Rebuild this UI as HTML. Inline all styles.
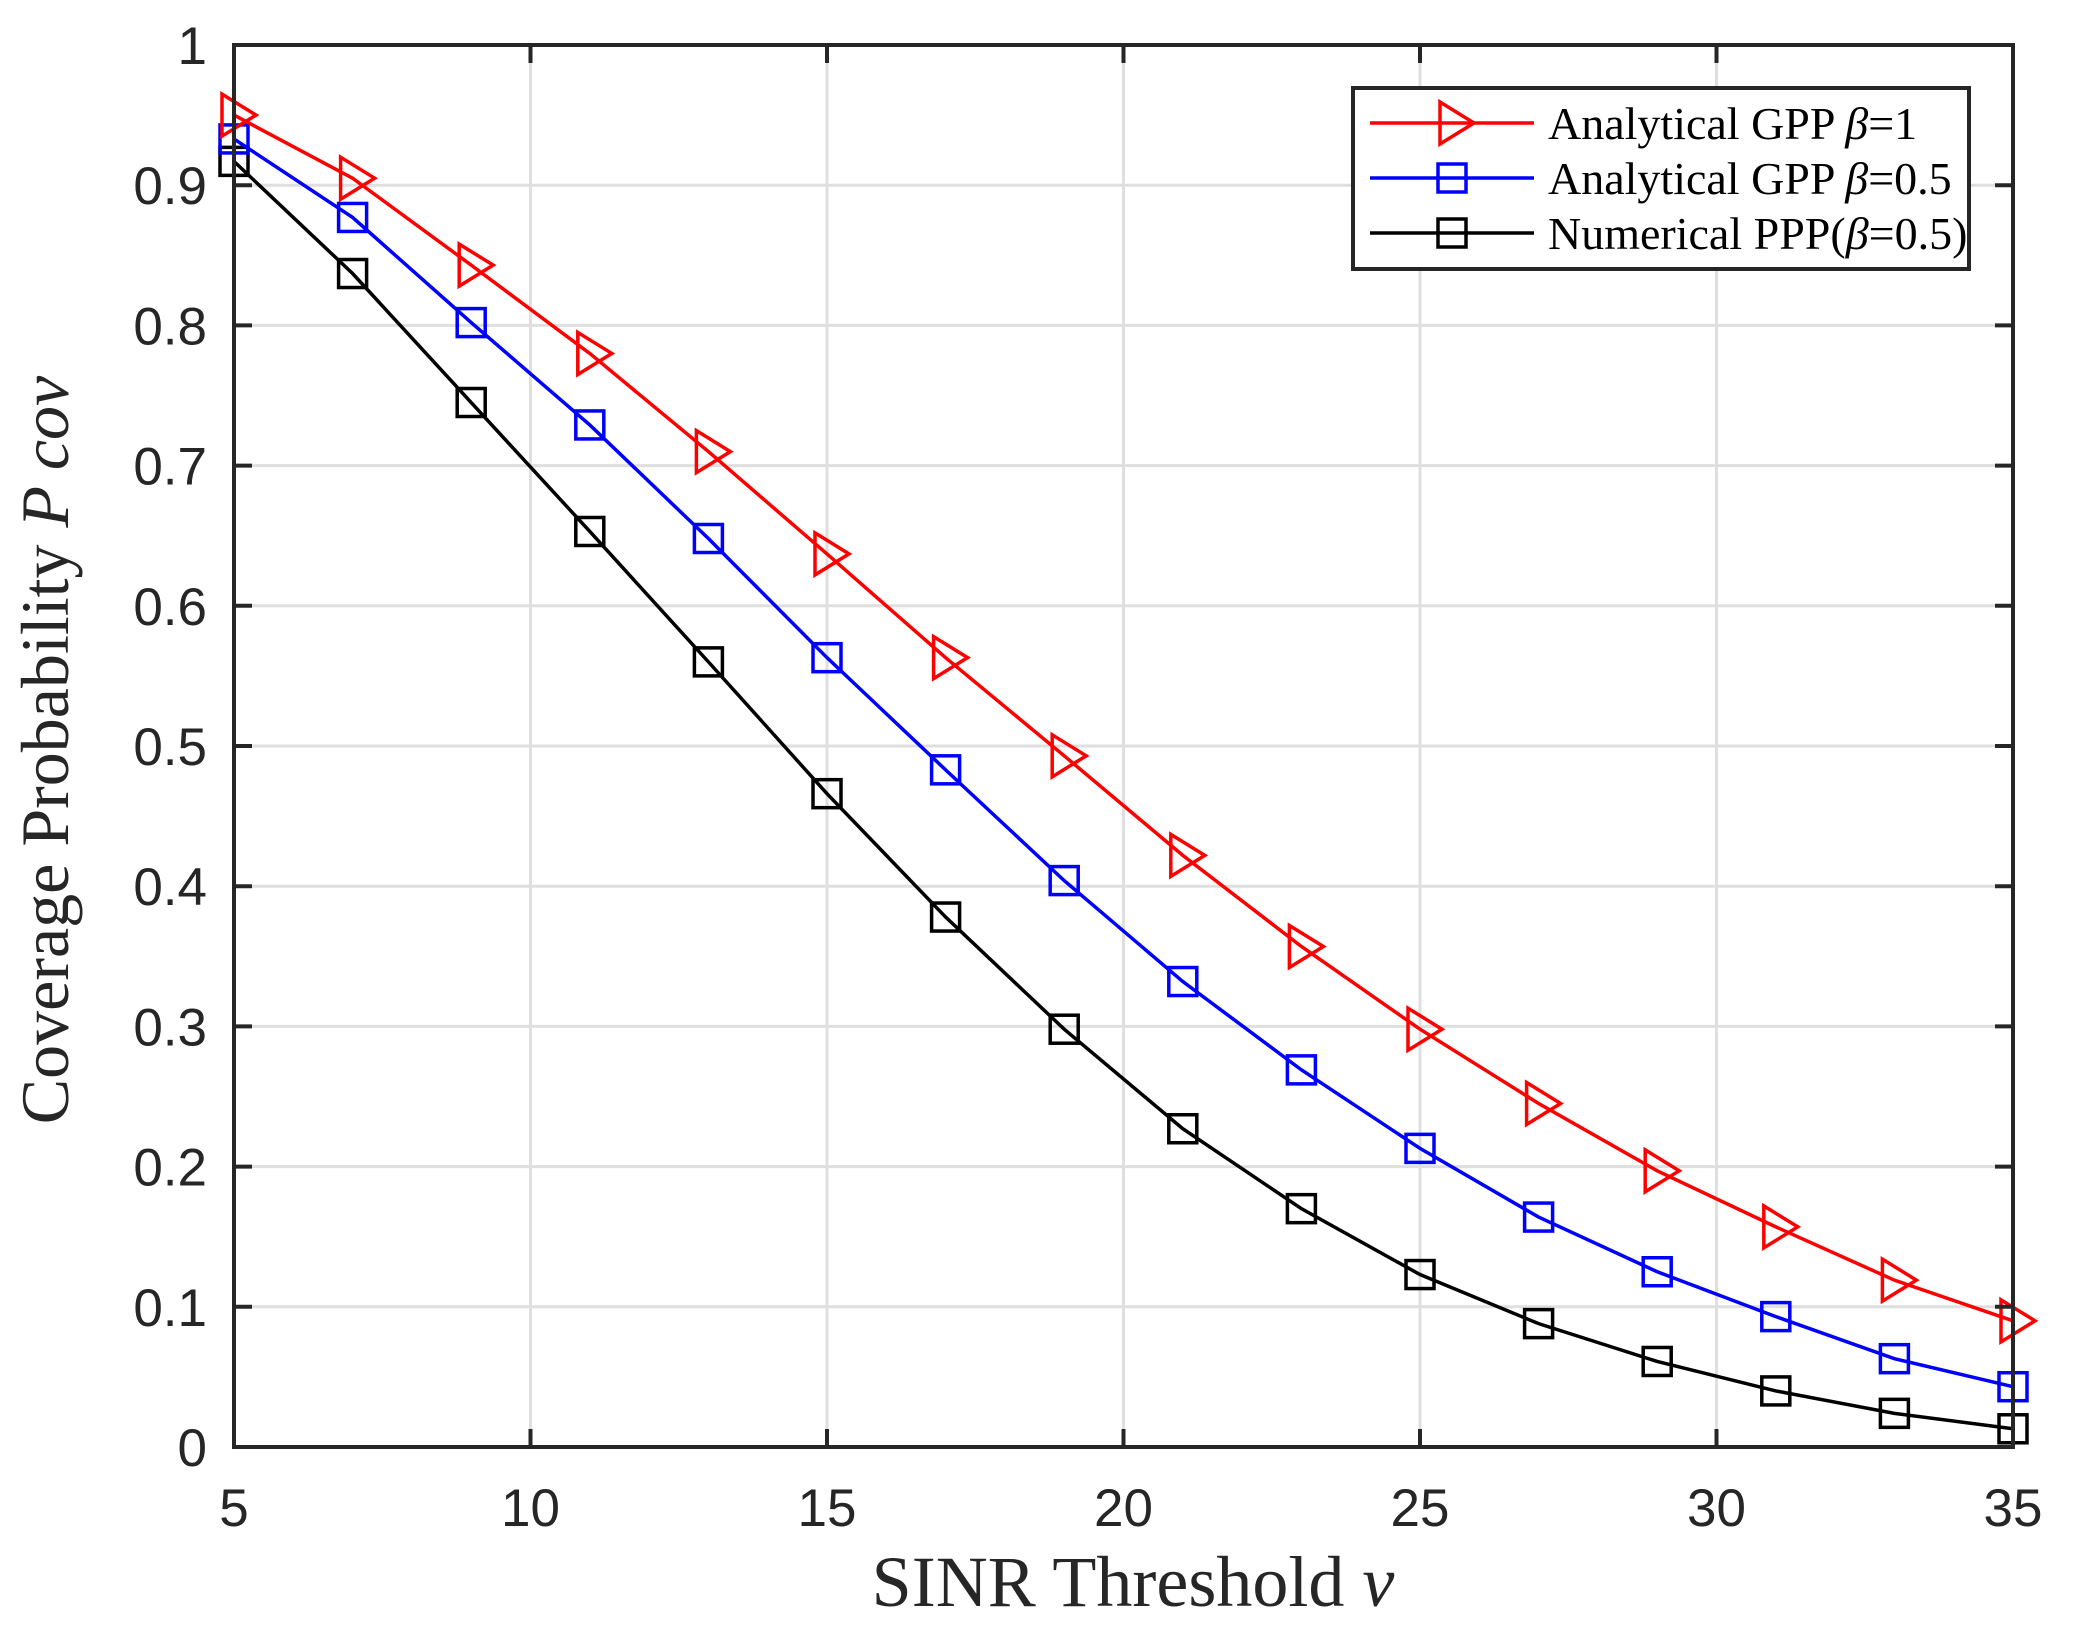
<!DOCTYPE html>
<html><head><meta charset="utf-8"><style>
html,body{margin:0;padding:0;background:#fff;}
svg{display:block;}
.tk{font-family:"Liberation Sans",sans-serif;font-size:53px;fill:#262626;}
.lab{font-family:"Liberation Serif",serif;font-size:68px;fill:#262626;}
.xlab{font-family:"Liberation Serif",serif;font-size:72px;fill:#262626;}
.leg{font-family:"Liberation Serif",serif;font-size:46px;fill:#000;}
</style></head><body>
<svg id="chart" width="2076" height="1640" viewBox="0 0 2076 1640" xmlns="http://www.w3.org/2000/svg">
<rect x="0" y="0" width="2076" height="1640" fill="#fff"/>
<g id="grid"></g>
<g id="series"></g>
<rect x="234" y="45" width="1779" height="1402" fill="none" stroke="#262626" stroke-width="4"/>
<g id="ticks"></g>
<text class="xlab" x="1133" y="1606" text-anchor="middle">SINR Threshold <tspan font-style="italic">ν</tspan></text>
<text class="lab" transform="translate(68,750) rotate(-90)" text-anchor="middle">Coverage Probability <tspan font-style="italic">P cov</tspan></text>
<g>
<rect x="1353" y="88" width="616" height="181" fill="#fff" stroke="#262626" stroke-width="4"/>
<g>
<line x1="1370" y1="123" x2="1534" y2="123" stroke="#ff0000" stroke-width="3.5"/>
<polygon points="1440,102 1474,123 1440,144" fill="none" stroke="#ff0000" stroke-width="3.5"/>
<text class="leg" x="1548" y="139">Analytical GPP <tspan font-style="italic">β</tspan>=1</text></g>
<g>
<line x1="1370" y1="178" x2="1534" y2="178" stroke="#0000ff" stroke-width="3.5"/>
<rect x="1438" y="164" width="28" height="28" fill="none" stroke="#0000ff" stroke-width="3.5"/>
<text class="leg" x="1548" y="194">Analytical GPP <tspan font-style="italic">β</tspan>=0.5</text></g>
<g>
<line x1="1370" y1="233" x2="1534" y2="233" stroke="#000" stroke-width="3.5"/>
<rect x="1438" y="219" width="28" height="28" fill="none" stroke="#000" stroke-width="3.5"/>
<text class="leg" x="1548" y="249">Numerical PPP(<tspan font-style="italic">β</tspan>=0.5)</text></g>
</g>
</svg>
<script>
const xValues = [5,7,9,11,13,15,17,19,21,23,25,27,29,31,33,35];
const redGpp1 = [0.95,0.905,0.843,0.78,0.71,0.637,0.563,0.493,0.422,0.357,0.298,0.245,0.197,0.157,0.119,0.09];
const blueGpp05 = [0.933,0.877,0.802,0.729,0.648,0.563,0.483,0.404,0.332,0.269,0.213,0.164,0.125,0.093,0.063,0.043];
const blackPpp05 = [0.917,0.837,0.745,0.653,0.56,0.466,0.378,0.298,0.227,0.17,0.123,0.088,0.061,0.040,0.024,0.013];
const xTicks = [5,10,15,20,25,30,35];
const yTicks = [0,0.1,0.2,0.3,0.4,0.5,0.6,0.7,0.8,0.9,1];
const yTickLabels = ["0","0.1","0.2","0.3","0.4","0.5","0.6","0.7","0.8","0.9","1"];

const L=234,R=2013,T=45,B=1447;
function xs(v){return L+(v-5)/30*(R-L);}
function ys(v){return B-v*(B-T);}
const NS="http://www.w3.org/2000/svg";
function mk(tag,attrs,parent){const e=document.createElementNS(NS,tag);for(const k in attrs)e.setAttribute(k,attrs[k]);parent.appendChild(e);return e;}
const grid=document.getElementById('grid'),ticks=document.getElementById('ticks'),ser=document.getElementById('series');
xTicks.forEach(t=>{
  const x=xs(t);
  const g=mk('line',{x1:x,x2:x,y1:T,y2:B,stroke:'#dfdfdf','stroke-width':3},grid);
  
  
  mk('line',{x1:x,x2:x,y1:B,y2:B-18,stroke:'#262626','stroke-width':4},ticks);
  mk('line',{x1:x,x2:x,y1:T,y2:T+18,stroke:'#262626','stroke-width':4},ticks);
  const tx=mk('text',{x:x,y:1526,'text-anchor':'middle','class':'tk'},ticks);
  tx.textContent=String(t);
  
  
});
yTicks.forEach((t,i)=>{
  const y=ys(t);
  const g=mk('line',{x1:L,x2:R,y1:y,y2:y,stroke:'#dfdfdf','stroke-width':3},grid);
  
  
  mk('line',{x1:L,x2:L+18,y1:y,y2:y,stroke:'#262626','stroke-width':4},ticks);
  mk('line',{x1:R,x2:R-18,y1:y,y2:y,stroke:'#262626','stroke-width':4},ticks);
  const tx=mk('text',{x:207,y:y+19,'text-anchor':'end','class':'tk'},ticks);
  tx.textContent=yTickLabels[i];
  
  
});
function drawSeries(vals,color,marker,name){
  const g=mk('g',{},ser);
  
  
  const pts=vals.map((v,i)=>xs(xValues[i])+','+ys(v)).join(' ');
  mk('polyline',{points:pts,fill:'none',stroke:color,'stroke-width':3.5},g);
  vals.forEach((v,i)=>{
    const cx=xs(xValues[i]),cy=ys(v);
    let m;
    if(marker==='tri'){
      m=mk('polygon',{points:(cx-12)+','+(cy-21)+' '+(cx+22)+','+cy+' '+(cx-12)+','+(cy+21),fill:'none',stroke:color,'stroke-width':3.5},g);
    }else{
      m=mk('rect',{x:cx-14,y:cy-14,width:28,height:28,fill:'none',stroke:color,'stroke-width':3.5},g);
    }
    
    
  });
}
drawSeries(blackPpp05,'#000000','sq','series-numerical-ppp-beta05');
drawSeries(blueGpp05,'#0000ff','sq','series-analytical-gpp-beta05');
drawSeries(redGpp1,'#ff0000','tri','series-analytical-gpp-beta1');
</script>
</body></html>
